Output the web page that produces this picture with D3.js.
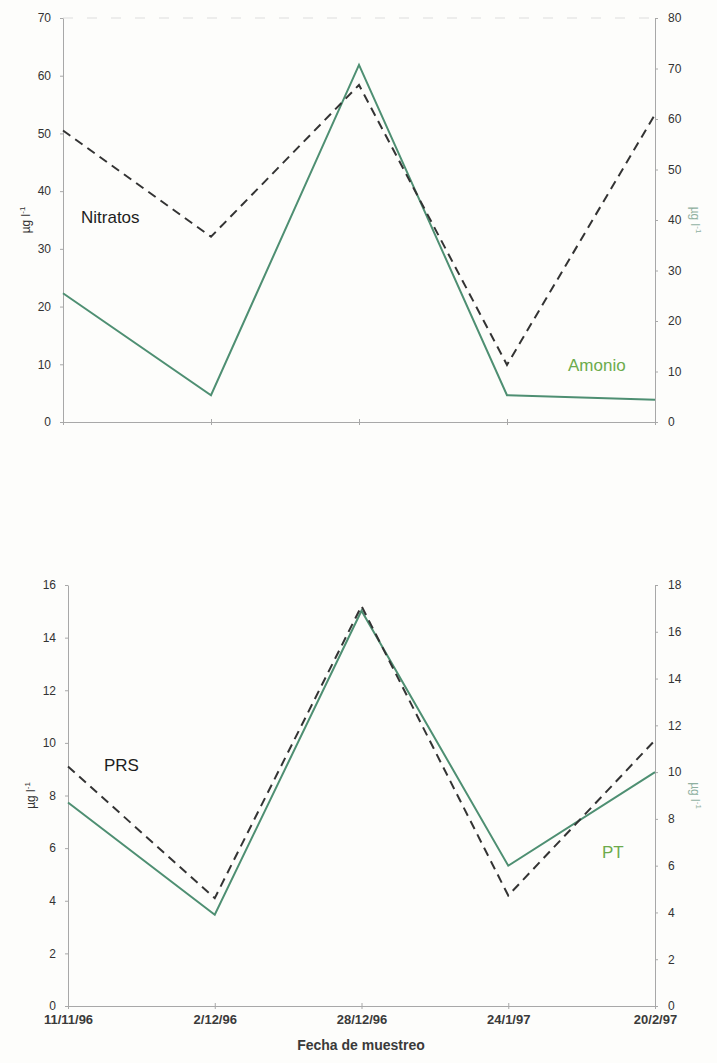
<!DOCTYPE html>
<html>
<head>
<meta charset="utf-8">
<script src="https://cdn.jsdelivr.net/npm/d3@7"></script>
<style>
  body { margin: 0; background: #fdfdfb; }
  svg { display: block; font-family: "Liberation Sans", Arial, sans-serif; }
  .axis path, .axis line { stroke: #a8a8a8; }
  .axis text { fill: #333; font-size: 12px; }
</style>
</head>
<body>
<div class="chart"></div>
<script>
// sampling dates (shared by both panels)
var fechas = ["11/11/96", "2/12/96", "28/12/96", "24/1/97", "20/2/97"];

// top panel: nitratos (left axis), amonio (right axis)
var nitratos = [50.5, 32.1, 58.4, 9.9, 53.3];
var amonio = [25.5, 5.3, 70.7, 5.3, 4.4];
var topLeftTicks = [0, 10, 20, 30, 40, 50, 60, 70];
var topRightTicks = [0, 10, 20, 30, 40, 50, 60, 70, 80];

// bottom panel: PRS (left axis), PT (right axis)
var prs = [9.1, 4.1, 15.2, 4.2, 10.1];
var pt = [8.7, 3.9, 16.9, 6.0, 10.0];
var botLeftTicks = [0, 2, 4, 6, 8, 10, 12, 14, 16];
var botRightTicks = [0, 2, 4, 6, 8, 10, 12, 14, 16, 18];

var svgWidth = 717;
var svgHeight = 1063;

var svg = d3.select(".chart")
  .append("svg")
  .attr("width", svgWidth)
  .attr("height", svgHeight);

var darkLine = "#333";
var greenLine = "#4e8f72";
var greenText = "#6cab4c";

// draws one panel with two y axes
function drawPanel(p) {
  var x = d3.scalePoint()
    .domain(fechas)
    .range([p.left, p.right]);

  var yL = d3.scaleLinear()
    .domain([0, d3.max(p.leftTicks)])
    .range([p.bottom, p.top]);

  var yR = d3.scaleLinear()
    .domain([0, d3.max(p.rightTicks)])
    .range([p.bottom, p.top]);

  // x axis
  var xAxis = svg.append("g")
    .attr("class", "axis")
    .attr("transform", `translate(0, ${p.bottom})`)
    .call(d3.axisBottom(x).tickSize(3).tickSizeOuter(0).tickPadding(6)
      .tickFormat(p.showDates ? null : ""));
  xAxis.selectAll(".tick line").attr("y1", -3);
  xAxis.selectAll("text")
    .style("font-size", "13px")
    .style("font-weight", "bold")
    .style("fill", "#3a3a3a");

  if (p.topBorder) {
    svg.append("line")
      .attr("x1", p.left).attr("x2", p.right)
      .attr("y1", p.top).attr("y2", p.top)
      .attr("stroke", "#ddd")
      .attr("stroke-dasharray", "10,14");
  }

  // left axis
  svg.append("g")
    .attr("class", "axis")
    .attr("transform", `translate(${p.left}, 0)`)
    .call(d3.axisLeft(yL).tickValues(p.leftTicks).tickSize(3).tickSizeOuter(0).tickPadding(9));

  // right axis
  svg.append("g")
    .attr("class", "axis")
    .attr("transform", `translate(${p.right}, 0)`)
    .call(d3.axisRight(yR).tickValues(p.rightTicks).tickSize(3).tickSizeOuter(0).tickPadding(10));

  // axis titles
  var midY = (p.top + p.bottom) / 2;
  svg.append("text")
    .attr("transform", `translate(${p.left - 33}, ${midY}) rotate(-90)`)
    .attr("text-anchor", "middle")
    .style("font-size", "12px")
    .style("fill", "#333")
    .html("µg l<tspan dy='-5' font-size='8'>-1</tspan>");

  svg.append("text")
    .attr("transform", `translate(${p.right + 36}, ${midY}) rotate(90)`)
    .attr("text-anchor", "middle")
    .style("font-size", "12px")
    .style("fill", "#8fb0a0")
    .html("µg l<tspan dy='-5' font-size='8'>-1</tspan>");

  // green series (right axis)
  svg.append("path")
    .datum(p.greenData)
    .attr("fill", "none")
    .attr("stroke", greenLine)
    .attr("stroke-width", 2)
    .attr("stroke-linejoin", "miter")
    .attr("d", d3.line().x((d, i) => x(fechas[i])).y(d => yR(d)));

  // dashed series (left axis)
  svg.append("path")
    .datum(p.darkData)
    .attr("fill", "none")
    .attr("stroke", darkLine)
    .attr("stroke-width", 2)
    .attr("stroke-dasharray", "9,6")
    .attr("d", d3.line().x((d, i) => x(fechas[i])).y(d => yL(d)));

  // series labels
  svg.append("text")
    .attr("x", p.darkLabel[1]).attr("y", p.darkLabel[2])
    .style("font-size", "17px").style("fill", "#1e1e1e")
    .text(p.darkLabel[0]);

  svg.append("text")
    .attr("x", p.greenLabel[1]).attr("y", p.greenLabel[2])
    .style("font-size", "17px").style("fill", greenText)
    .text(p.greenLabel[0]);
}

drawPanel({
  left: 63, right: 655, top: 18, bottom: 422,
  leftTicks: topLeftTicks, rightTicks: topRightTicks,
  darkData: nitratos, greenData: amonio,
  darkLabel: ["Nitratos", 81, 223],
  greenLabel: ["Amonio", 568, 371],
  showDates: false, topBorder: true
});

drawPanel({
  left: 68, right: 655, top: 585, bottom: 1006,
  leftTicks: botLeftTicks, rightTicks: botRightTicks,
  darkData: prs, greenData: pt,
  darkLabel: ["PRS", 104, 771],
  greenLabel: ["PT", 602, 858],
  showDates: true, topBorder: false
});

// x axis title
svg.append("text")
  .attr("x", 361)
  .attr("y", 1050)
  .attr("text-anchor", "middle")
  .style("font-size", "14px")
  .style("font-weight", "bold")
  .style("fill", "#3a3a3a")
  .text("Fecha de muestreo");
</script>
</body>
</html>
